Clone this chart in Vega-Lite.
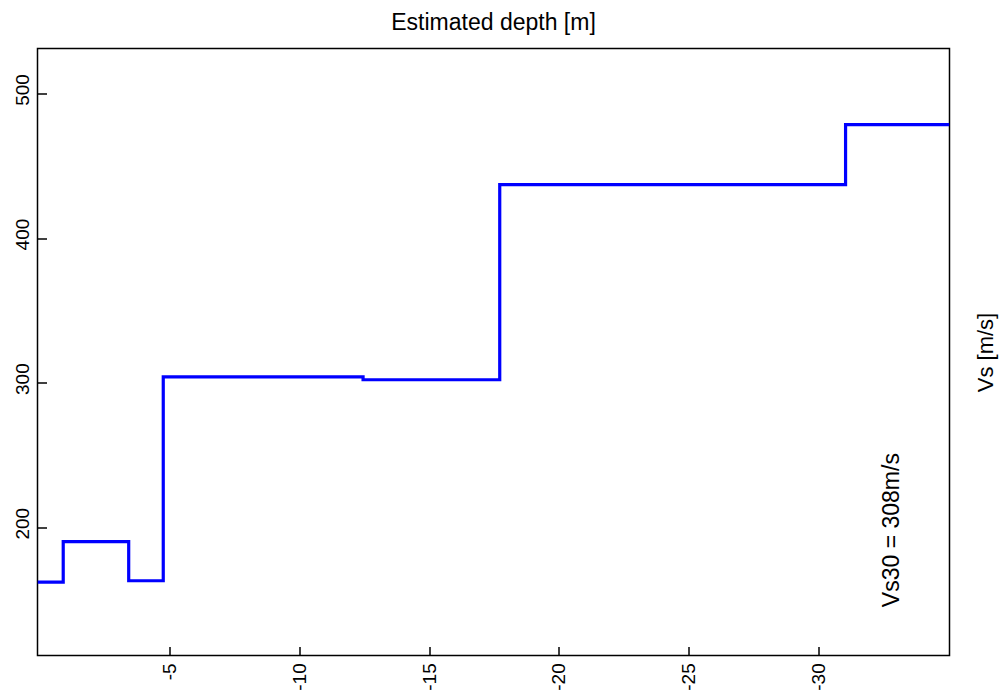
{
  "$schema": "https://vega.github.io/schema/vega-lite/v6.json",
  "width": 912,
  "height": 607,
  "autosize": "none",
  "padding": {"left": 37.5, "top": 48.5, "right": 51, "bottom": 42},
  "background": "white",
  "title": {"text": "Estimated depth [m]", "fontSize": 23, "font": "Liberation Sans", "fontWeight": "normal", "color": "black", "baseline": "alphabetic", "offset": -4, "anchor": "middle"},
  "config": {
    "view": {"stroke": "black", "strokeWidth": 1.5},
    "axis": {"domain": false, "grid": false, "tickColor": "black", "tickWidth": 1.5, "labelColor": "black", "labelFont": "Liberation Sans", "labelFontSize": 19, "titleColor": "black", "titleFont": "Liberation Sans", "titleFontSize": 22, "titleFontWeight": "normal"}
  },
  "datasets": {
    "profile": [
      {"depth": 0.07, "vs": 162},
      {"depth": -0.92, "vs": 190},
      {"depth": -3.44, "vs": 163},
      {"depth": -4.77, "vs": 304},
      {"depth": -12.46, "vs": 302},
      {"depth": -17.72, "vs": 437},
      {"depth": -31.03, "vs": 478.5},
      {"depth": -35.03, "vs": 478.5}
    ],
    "note": [{"depth": -32.8, "vs": 198, "label": "Vs30 = 308m/s"}]
  },
  "layer": [
    {
      "data": {"name": "profile"},
      "mark": {"type": "line", "interpolate": "step-after", "color": "#0000ff", "strokeWidth": 3.2, "clip": true, "strokeJoin": "miter"},
      "encoding": {
        "x": {"field": "depth", "type": "quantitative", "scale": {"domain": [0.07, -35.03], "nice": false, "zero": false},
          "axis": {"orient": "bottom", "title": null, "values": [-5, -10, -15, -20, -25, -30], "labelExpr": "'' + datum.value", "labelAngle": 270, "labelAlign": "right", "labelBaseline": "middle", "tickSize": -9, "labelPadding": 16.3}},
        "y": {"field": "vs", "type": "quantitative", "scale": {"domain": [111.3, 531.1], "nice": false, "zero": false},
          "axis": {"orient": "left", "title": null, "values": [200, 300, 400, 500], "labelAngle": 270, "labelAlign": "center", "labelBaseline": "alphabetic", "tickSize": -9, "labelPadding": 18.2, "labelOffset": -4}}
      }
    },
    {
      "data": {"name": "note"},
      "mark": {"type": "text", "angle": 270, "fontSize": 23, "font": "Liberation Sans", "color": "black", "align": "center", "baseline": "middle"},
      "encoding": {
        "x": {"field": "depth", "type": "quantitative"},
        "y": {"field": "vs", "type": "quantitative",
          "axis": {"orient": "right", "labels": false, "ticks": false, "domain": false, "title": "Vs [m/s]", "titleAngle": 270, "titleX": 35.5, "titleY": 303.5, "titleAlign": "center", "titleBaseline": "middle"}},
        "text": {"field": "label"}
      }
    }
  ],
  "resolve": {"axis": {"y": "independent"}}
}
